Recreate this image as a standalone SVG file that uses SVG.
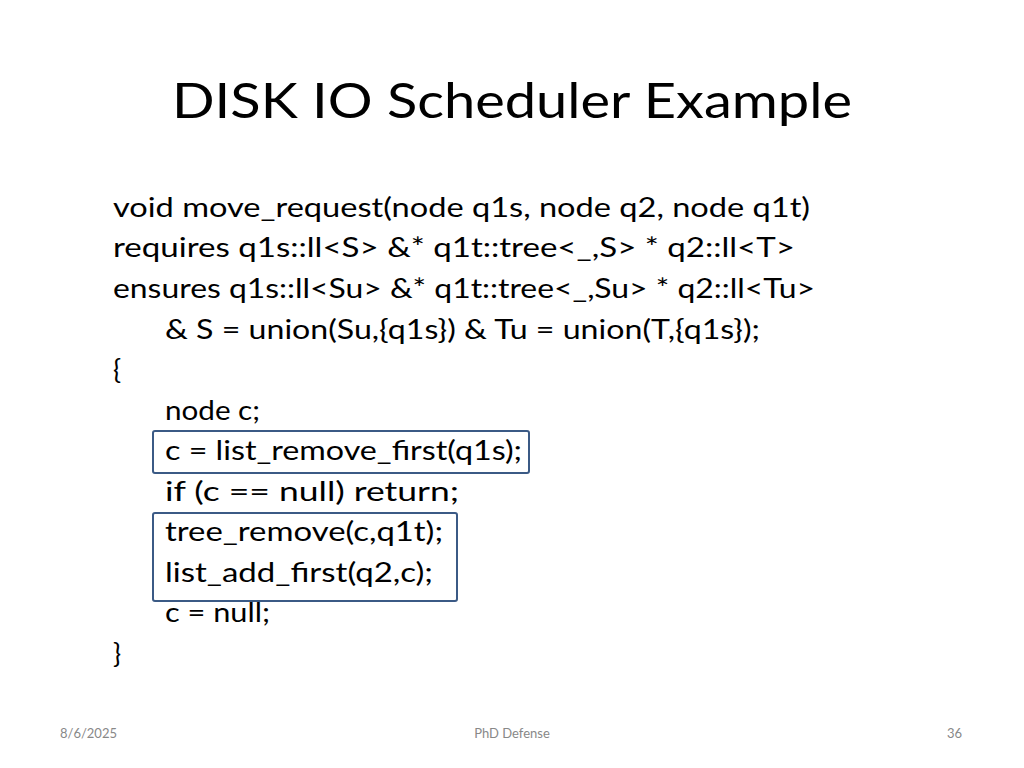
<svg xmlns="http://www.w3.org/2000/svg" width="1024" height="768" viewBox="0 0 1024 768">
<style>
text{font-family:Lato,"Open Sans","Liberation Sans",sans-serif;fill:#000}
.c{font-size:27px}
.f{font-size:13px;fill:#888}
.b{fill:none;stroke:#3b5a85;stroke-width:2}
</style>
<rect width="1024" height="768" fill="#fff"/>
<g id="title"><text x="172" y="118" font-size="48" textLength="680" lengthAdjust="spacingAndGlyphs">DISK IO Scheduler Example</text></g>
<g id="code">
<text class="c" x="113" y="217" textLength="697" lengthAdjust="spacingAndGlyphs">void move_request(node q1s, node q2, node q1t)</text>
<text class="c" x="113" y="257" textLength="682" lengthAdjust="spacingAndGlyphs">requires q1s::ll&lt;S&gt; &amp;* q1t::tree&lt;_,S&gt; * q2::ll&lt;T&gt;</text>
<text class="c" x="113" y="298" textLength="702" lengthAdjust="spacingAndGlyphs">ensures q1s::ll&lt;Su&gt; &amp;* q1t::tree&lt;_,Su&gt; * q2::ll&lt;Tu&gt;</text>
<text class="c" x="165" y="339" textLength="595" lengthAdjust="spacingAndGlyphs">&amp; S = union(Su,{q1s}) &amp; Tu = union(T,{q1s});</text>
<text class="c" x="113" y="379">{</text>
<text class="c" x="165" y="420" textLength="95" lengthAdjust="spacingAndGlyphs">node c;</text>
<text class="c" x="165" y="460" textLength="357" lengthAdjust="spacingAndGlyphs">c = list_remove_first(q1s);</text>
<text class="c" x="165" y="501" textLength="294" lengthAdjust="spacingAndGlyphs">if (c == null) return;</text>
<text class="c" x="165" y="541" textLength="278" lengthAdjust="spacingAndGlyphs">tree_remove(c,q1t);</text>
<text class="c" x="165" y="582" textLength="268" lengthAdjust="spacingAndGlyphs">list_add_first(q2,c);</text>
<text class="c" x="165" y="622" textLength="105" lengthAdjust="spacingAndGlyphs">c = null;</text>
<text class="c" x="113" y="663">}</text>
</g>
<g id="boxes">
<rect class="b" x="153" y="431" width="376" height="42" rx="2"/>
<rect class="b" x="153" y="513" width="304" height="88" rx="2"/>
</g>
<g id="footer">
<text class="f" x="60" y="738">8/6/2025</text>
<text class="f" x="512" y="738" text-anchor="middle">PhD Defense</text>
<text class="f" x="962" y="738" text-anchor="end">36</text>
</g>
</svg>
